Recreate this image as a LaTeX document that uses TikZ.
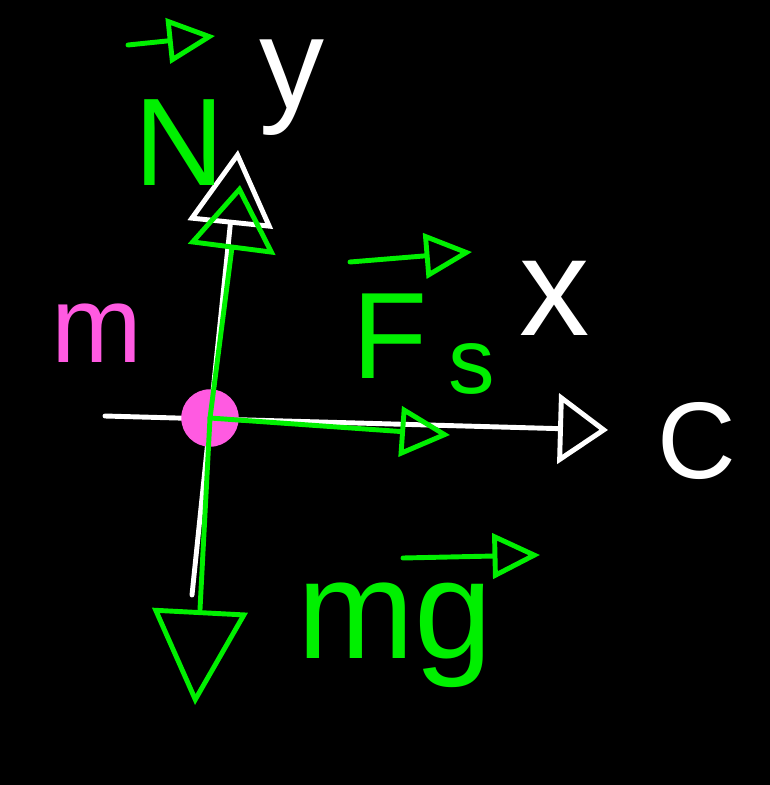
\documentclass[tikz,border=0pt]{standalone}
\usepackage{fontspec}
\setmainfont{Liberation Sans}
\usetikzlibrary{arrows.meta}
\definecolor{fbdgreen}{RGB}{0,240,0}
\definecolor{fbdpink}{RGB}{255,90,225}

\begin{document}
\begin{tikzpicture}[x=0.02cm,y=-0.02cm,line width=2.8pt,line cap=round,line join=round,
  axis/.style={white},
  force/.style={fbdgreen},
  vecarrow/.style={fbdgreen,-{Triangle[open,length=0.95cm,width=0.9cm]}},
  lbl/.style={inner sep=0pt,anchor=base,font=\fontsize{#1}{#1}\selectfont},
  lbl/.default=80]
\fill[black] (0,0) rectangle (770,785);

% axes
\coordinate (O) at (210,418);
\coordinate (xl) at (105,416);
\coordinate (xr) at (608,430);
\coordinate (yb) at (192,595);
\coordinate (yt) at (238,150);
\draw[axis,-{Triangle[open,length=1cm,width=1.4cm]}] (xl) -- (xr);
\draw[axis,-{Triangle[open,length=1.5cm,width=1.7cm]}] (yb) -- (yt);

\node[white,lbl=74] (ylabel) at (292,108) {y};
\node[white,lbl] (xlabel) at (555,335) {x};
\node[white,lbl=62] (clabel) at (697,478) {C};

% mass
\node[circle,fill=fbdpink,minimum size=1.15cm,inner sep=0pt] (m) at (O) {};
\node[fbdpink,lbl=62] (mlabel) at (97,362) {m};

% forces
\coordinate (Ntip) at (240,185);
\coordinate (Ftip) at (450,435);
\coordinate (Wtip) at (195,705);
\draw[force,-{Triangle[open,length=1.3cm,width=1.75cm]}] (m.center) -- (Ntip);
\draw[force,-{Triangle[open,length=1cm,width=1cm]}] (m.center) -- (Ftip);
\draw[force,-{Triangle[open,length=1.9cm,width=1.9cm]}] (m.center) -- (Wtip);

% force labels
\node[fbdgreen,lbl=71] (Nlabel) at (180,185) {N};
\coordinate (Nv1) at (128,45);
\coordinate (Nv2) at (215,36);
\draw[vecarrow] (Nv1) -- (Nv2);

\node[fbdgreen,lbl=70] (Flabel) at (390,378) {F};
\node[fbdgreen,lbl=53] (slabel) at (472,393) {s};
\coordinate (Fv1) at (350,262);
\coordinate (Fv2) at (472,252);
\draw[vecarrow] (Fv1) -- (Fv2);

\node[fbdgreen,lbl] (mglabel) at (395,658) {mg};
\coordinate (Wv1) at (403,558);
\coordinate (Wv2) at (540,555);
\draw[vecarrow] (Wv1) -- (Wv2);
\end{tikzpicture}
\end{document}
